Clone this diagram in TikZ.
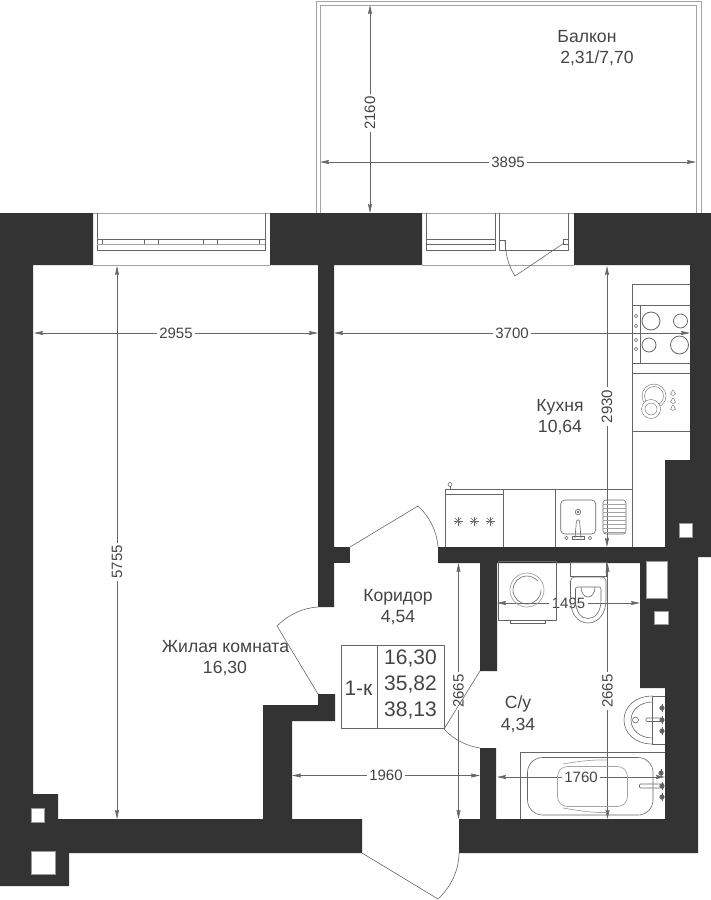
\documentclass[tikz,border=0pt]{standalone}
\usepackage{fontspec}
\setmainfont{Liberation Sans}
\usetikzlibrary{arrows.meta}
\definecolor{wallcol}{HTML}{333333}
\definecolor{linecol}{HTML}{666666}
\definecolor{textcol}{HTML}{444444}
\tikzset{
	wall/.style={fill=wallcol},
	hole/.style={fill=white,draw=wallcol!50,line width=0.4pt},
	fit line/.style={draw=linecol,line width=0.6pt},
	faint line/.style={draw=linecol!60,line width=0.7pt},
	dimline/.style={draw=linecol,line width=0.6pt,{Stealth[length=9pt,width=4pt,inset=1pt]}-{Stealth[length=9pt,width=4pt,inset=1pt]}},
	dimtext/.style={fill=white,inner sep=2.5pt,text=textcol,font=\fontsize{15}{15}\selectfont},
	roomtext/.style={text=textcol,font=\fontsize{17.6}{17.6}\selectfont,align=center,inner sep=0pt},
	celltext/.style={text=textcol,font=\fontsize{21}{21}\selectfont,inner sep=0pt}
}
\def\burner(#1,#2,#3){\draw[fit line,line width=0.8pt] (#1,#2) circle (#3);}
\def\knob(#1,#2){\draw[fit line] (#1,#2) circle (1.7);}
\def\drop(#1,#2){\draw[fit line,line width=0.4pt] (#1-2.5,#2+1) .. controls (#1-1.5,#2-1.5) and (#1,#2-3) .. (#1,#2-3) .. controls (#1,#2-3) and (#1+1.5,#2-1.5) .. (#1+2.5,#2+1) .. controls (#1+1.5,#2+3) and (#1-1.5,#2+3) .. (#1-2.5,#2+1);}
\def\flake(#1,#2){%
	\foreach \a in {0,45,...,135}
		\draw[fit line] (#1,#2) ++(\a:4.5) -- ++(\a+180:9);
}
\def\tapknob(#1,#2){%
	\fill[linecol] (#1,#2) circle (2.6);
	\draw[wallcol!80,line width=1pt] (#1,#2-4) -- (#1,#2+4);
}
\begin{document}
\begin{tikzpicture}[x=1pt,y=-1pt]
\useasboundingbox (0,0) rectangle (711,900);
% dimensions
\draw[dimline] (370,5) -- node[dimtext,rotate=90,pos=0.52] (d2160) {2160} (370,213);
\draw[dimline] (320,162) -- node[dimtext] (d3895) {3895} (696,162);
\draw[dimline] (34,333) -- node[dimtext] (d2955) {2955} (318,333);
\draw[dimline] (334,333) -- node[dimtext] (d3700) {3700} (690,333);
\draw[dimline] (117,266) -- node[dimtext,rotate=90,pos=0.535] (d5755) {5755} (117,819);
\draw[dimline] (607,266) -- node[dimtext,rotate=90] (d2930) {2930} (607,547);
\draw[dimline] (458.5,563) -- node[dimtext,rotate=90] (d2665a) {2665} (458.5,819);
\draw[dimline] (607.5,563) -- node[dimtext,rotate=90] (d2665b) {2665} (607.5,819);
\draw[dimline] (497,603) -- node[dimtext] (d1495) {1495} (640,603);
\draw[dimline] (497,777) -- node[dimtext] (d1760) {1760} (665,777);
\draw[dimline] (292,775.5) -- node[dimtext] (d1960) {1960} (480,775.5);
% balcony
\draw[faint line] (316,213) -- (316,1) -- (701,1) -- (701,213);
\draw[faint line] (320,213) -- (320,5) -- (696,5) -- (696,213);
% walls
\fill[wall] (0,213) -- (93,213) -- (93,265) -- (33,265) -- (33,794) -- (58,794) -- (58,819) -- (362,819) -- (362,853) -- (69,853) -- (69,886) -- (0,886) -- cycle;
\fill[wall] (270,213) -- (422,213) -- (422,265) -- (334,265) -- (334,607) -- (318,607) -- (318,265) -- (270,265) -- cycle;
\fill[wall] (574,213) -- (711,213) -- (711,557) -- (698,557) -- (698,853) -- (459,853) -- (459,819) -- (480,819) -- (480,748) -- (496,748) -- (496,819) -- (665,819) -- (665,688) -- (640,688) -- (640,563) -- (497,563) -- (497,671) -- (480,671) -- (480,563) -- (438,563) -- (438,547) -- (665,547) -- (665,460) -- (690,460) -- (690,265) -- (574,265) -- cycle;
\fill[wall] (318,547) rectangle (350,563);
\fill[wall] (263,820) -- (263,705) -- (318,705) -- (318,694) -- (335,694) -- (335,721) -- (292,721) -- (292,820) -- cycle;
\filldraw[hole] (31,808.5) rectangle (44,822);
\filldraw[hole] (31,851) rectangle (55,874);
\filldraw[hole] (679,523) rectangle (692,537);
\filldraw[hole] (646,561) rectangle (667,598);
\filldraw[hole] (654,611) rectangle (668,624);
% window openings
\draw[faint line] (93,213) -- (270,213) (93,265) -- (270,265);
\draw[faint line] (422,213) -- (574,213) (422,265) -- (574,265);
\draw[fit line] (97,213) -- (97,250) -- (265,250) -- (265,213);
\draw[fit line] (97,239) -- (265,239);
\draw[faint line] (97,244) -- (265,244);
\foreach \x in {102,144,158,203,217.5,259}
	\draw[fit line] (\x,239) -- (\x,244);
\draw[fit line] (426.5,213) -- (426.5,250) -- (495,250) -- (495,213);
\draw[fit line] (426.5,239) -- (495,239) (426.5,244) -- (495,244);
\draw[fit line] (499.5,213) -- (499.5,250) -- (568,250) -- (568,213);
\draw[fit line,fill=white] (499.5,240) rectangle (505,250);
\draw[fit line,fill=white] (563.5,239) rectangle (568,244);
\draw[fit line] (505,241) .. controls (505.5,255) and (509,267) .. (515,276) -- (564,243);
% doors
\draw[fit line] (350,547) -- (418,506) .. controls (429,516) and (437,531) .. (438,547);
\draw[fit line] (318,607) .. controls (302,608) and (288,615) .. (277,626) -- (318,694);
\draw[fit line] (444,729) -- (480,671);
\draw[fit line] (444,729) .. controls (453,739) and (466,746) .. (480,748);
\draw[fit line] (362,853) -- (438,899) .. controls (451,887) and (459,870) .. (459,853);
% kitchen
\draw[fit line] (690,284) -- (632.5,284) -- (632.5,547);
\draw[fit line] (632.5,305) -- (690,305) (632.5,363) -- (690,363);
\draw[fit line] (632.5,373) -- (690,373) (632.5,431) -- (690,431);
\draw[fit line] (640,305) -- (640,363);
\knob(636,316) \knob(636,326) \knob(636,340) \knob(636,349)
\burner(651,321,9) \burner(680.5,321,7) \burner(649,345,7) \burner(679.5,345,9)
\draw[fit line,line width=0.4pt] (654,396) circle (12) (654,396) circle (9.5);
\draw[fit line,line width=0.4pt,fill=white] (651,409) circle (9.5);
\draw[fit line,line width=0.4pt] (651,409) circle (6);
\drop(673,393) \drop(673,401) \drop(673,408)
\draw[fit line] (445,547) -- (445,489) -- (632.5,489);
\draw[fit line] (445,494) -- (503,494);
\draw[fit line] (503,489) -- (503,547) (555.5,489) -- (555.5,547);
\draw[fit line] (450,488.5) -- (450,486);
\draw[fit line] (450,484.5) circle (2);
\flake(458,521) \flake(474,521) \flake(490,521)
\draw[fit line,rounded corners=4pt] (560.7,500) rectangle (595.7,534);
\draw[fit line] (578,512) circle (2.8) (578,512) circle (1);
\draw[fit line,rounded corners=1pt] (575,538) -- (576.5,520) -- (579.5,520) -- (581,538);
\draw[fit line] (572,539) rectangle (584,536.5);
\knob(566.5,538) \knob(590,538)
\draw[fit line,rounded corners=3pt] (603,500) rectangle (626,534);
\foreach \y in {504,508,...,532}
	\draw[faint line] (603,\y) -- (626,\y);
% bathroom
\draw[fit line] (498,561) rectangle (556,620);
\draw[fit line] (510,620) rectangle (545,623);
\draw[faint line] (527,590) circle (17);
\draw[fit line] (541,590) arc (0:320:14);
\draw[fit line] (570.5,562) rectangle (606,576);
\draw[fit line,rounded corners=4pt] (570.5,600) -- (570.5,577) -- (606,577) -- (606,600);
\draw[fit line] (570.5,600) .. controls (570.5,614) and (578,623) .. (588,623) .. controls (598,623) and (606,614) .. (606,600);
\draw[fit line,rounded corners=2pt] (575.5,600) -- (575.5,587) -- (601,587) -- (601,600);
\draw[fit line] (575.5,600) .. controls (575.5,612) and (581,618.5) .. (588,618.5) .. controls (595,618.5) and (601,612) .. (601,600);
\draw[fit line] (581,587) .. controls (581,593) and (584,597) .. (588,597) .. controls (592,597) and (595,593) .. (595,587);
\draw[fit line] (665,696) -- (652.5,696) -- (652.5,744) -- (665,744);
\draw[fit line] (652.5,696) .. controls (635,696) and (624,707) .. (624,720) .. controls (624,733) and (635,744) .. (652.5,744);
\draw[fit line] (652.5,702) .. controls (640,702) and (631,710) .. (631,720) .. controls (631,730) and (640,738) .. (652.5,738);
\draw[fit line] (635.5,720) circle (3);
\draw[fit line,rounded corners=1pt] (663,718) -- (646,718) -- (646,721.5) -- (663,721.5);
\tapknob(662,708) \tapknob(662,720) \tapknob(662,731)
\draw[fit line] (520.7,819) -- (520.7,752) -- (665,752);
\draw[fit line,rounded corners=15pt] (527.5,757.5) rectangle (653,815);
\draw[faint line,rounded corners=10pt] (557.5,766.5) rectangle (627.5,806.5);
\draw[faint line] (563,764) .. controls (580,761) and (595,759.5) .. (607,760);
\draw[faint line] (563,808) .. controls (580,811) and (595,813) .. (607,812.5);
\draw[fit line,rounded corners=1pt] (664,784) -- (639.5,784) -- (639.5,788) -- (664,788);
\tapknob(661,773) \tapknob(662,786) \tapknob(662,797)
% flat table
\draw[fit line] (341.5,645.5) rectangle (444.5,728.5);
\draw[fit line] (377.5,645.5) -- (377.5,728.5);
\node[celltext] (flatname) at (358.5,688) {1-к};
\node[celltext] (areaa) at (410.5,659) {16,30};
\node[celltext] (areab) at (410.5,685) {35,82};
\node[celltext] (areac) at (410.5,711) {38,13};
% room names
\node[roomtext] (balcony) at (587,37) {Балкон};
\node[roomtext] (balconyarea) at (597,58) {2,31/7,70};
\node[roomtext] (kitchen) at (560,407) {Кухня};
\node[roomtext] (kitchenarea) at (560,427) {10,64};
\node[roomtext] (hall) at (398,597) {Коридор};
\node[roomtext] (hallarea) at (398,618) {4,54};
\node[roomtext] (living) at (225.5,647) {Жилая комната};
\node[roomtext] (livingarea) at (225,668) {16,30};
\node[roomtext] (bath) at (518,704) {С/у};
\node[roomtext] (batharea) at (518,725) {4,34};
\end{tikzpicture}
\end{document}
